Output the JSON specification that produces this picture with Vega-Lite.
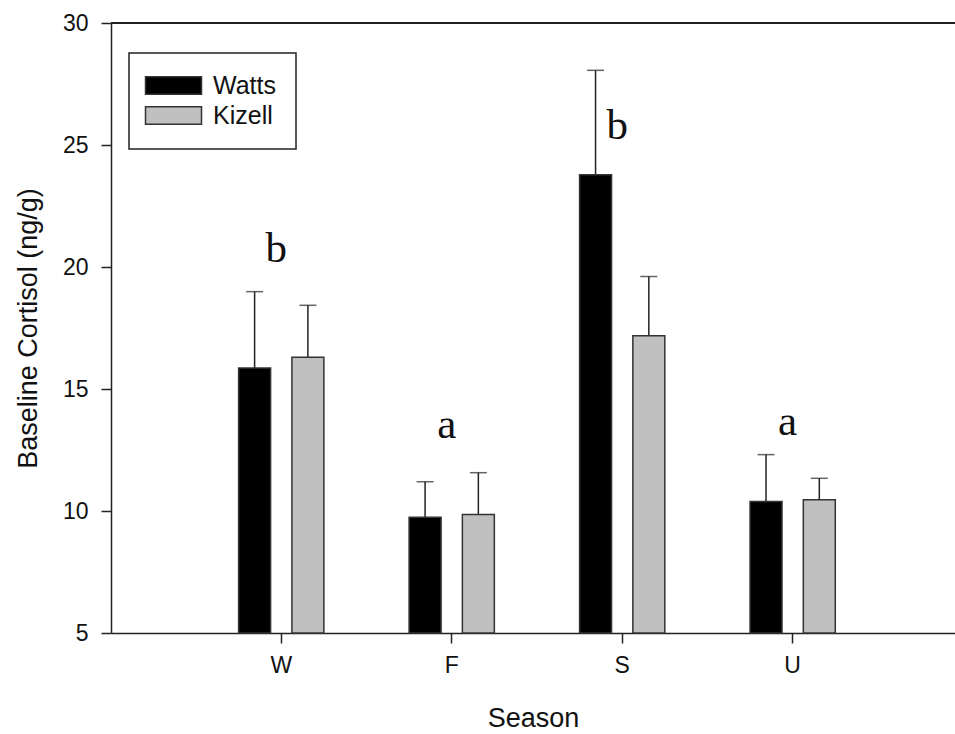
{
  "$schema": "https://vega.github.io/schema/vega-lite/v6.json",
  "width": 844,
  "height": 610,
  "autosize": {"type": "none"},
  "padding": {"left": 111, "top": 23, "right": 0, "bottom": 101},
  "background": "white",
  "config": {
    "view": {"stroke": null},
    "font": "Liberation Sans",
    "axis": {
      "grid": false,
      "domainColor": "#222",
      "domainWidth": 1.5,
      "tickColor": "#222",
      "tickWidth": 1.5,
      "tickSize": 10,
      "labelFont": "Liberation Sans",
      "labelFontSize": 23,
      "labelColor": "#111",
      "titleFont": "Liberation Sans",
      "titleFontSize": 27,
      "titleFontWeight": "normal",
      "titleColor": "#111"
    },
    "legend": {
      "strokeColor": "#222",
      "strokeWidth": 1.5,
      "fillColor": "white",
      "padding": 20,
      "symbolStrokeColor": "#333",
      "symbolStrokeWidth": 1.5
    }
  },
  "datasets": {
    "bars": [
      {"season": "W", "site": "Watts", "mean": 15.86, "upper": 18.99},
      {"season": "W", "site": "Kizell", "mean": 16.3, "upper": 18.43},
      {"season": "F", "site": "Watts", "mean": 9.74, "upper": 11.2},
      {"season": "F", "site": "Kizell", "mean": 9.86, "upper": 11.57},
      {"season": "S", "site": "Watts", "mean": 23.78, "upper": 28.06},
      {"season": "S", "site": "Kizell", "mean": 17.18, "upper": 19.61},
      {"season": "U", "site": "Watts", "mean": 10.39, "upper": 12.31},
      {"season": "U", "site": "Kizell", "mean": 10.46, "upper": 11.34}
    ],
    "letters": [
      {"season": "W", "letter": "b", "pos": 20.2},
      {"season": "F", "letter": "a", "pos": 13.0},
      {"season": "S", "letter": "b", "pos": 25.25},
      {"season": "U", "letter": "a", "pos": 13.1}
    ]
  },
  "layer": [
    {
      "data": {"name": "bars"},
      "mark": {"type": "rule", "color": "#222", "strokeWidth": 1.5},
      "encoding": {
        "x": {"field": "season", "type": "nominal", "title": "Season"},
        "xOffset": {"field": "site", "type": "nominal"},
        "y": {"field": "mean", "type": "quantitative", "title": "Baseline Cortisol (ng/g)"},
        "y2": {"field": "upper"}
      }
    },
    {
      "data": {"name": "bars"},
      "mark": {"type": "tick", "color": "#222", "size": 17, "thickness": 1.5},
      "encoding": {
        "x": {"field": "season", "type": "nominal", "title": "Season"},
        "xOffset": {"field": "site", "type": "nominal"},
        "y": {"field": "upper", "type": "quantitative", "title": "Baseline Cortisol (ng/g)"}
      }
    },
    {
      "data": {"name": "bars"},
      "mark": {"type": "bar", "stroke": "#333", "strokeWidth": 1.5},
      "encoding": {
        "x": {
          "field": "season",
          "type": "nominal",
          "title": "Season",
          "sort": ["W", "F", "S", "U"],
          "scale": {"domain": ["W", "F", "S", "U"], "paddingInner": 0.5, "paddingOuter": 0.7255, "align": 0.516, "round": false},
          "axis": {"labelAngle": 0, "labelAlign": "center", "labelPadding": 22, "titlePadding": 28}
        },
        "xOffset": {
          "field": "site",
          "type": "nominal",
          "sort": ["Watts", "Kizell"],
          "scale": {"domain": ["Watts", "Kizell"], "paddingInner": 0.4, "paddingOuter": 0}
        },
        "y": {
          "field": "mean",
          "type": "quantitative",
          "title": "Baseline Cortisol (ng/g)",
          "scale": {"domain": [5, 30], "nice": false, "zero": false},
          "axis": {"values": [5, 10, 15, 20, 25, 30], "labelPadding": 13, "titlePadding": 20}
        },
        "y2": {"datum": 5},
        "color": {
          "field": "site",
          "type": "nominal",
          "sort": ["Watts", "Kizell"],
          "scale": {"domain": ["Watts", "Kizell"], "range": ["#000000", "#c0c0c0"]},
          "legend": {
            "title": null,
            "orient": "none",
            "legendX": 18,
            "legendY": 30,
            "direction": "vertical",
            "symbolType": "M-7,-2.19H7V2.19H-7Z",
            "symbolSize": 64,
            "symbolOffset": 12,
            "labelOffset": 27,
            "labelFont": "Liberation Sans",
            "labelFontSize": 25,
            "labelColor": "#111",
            "rowPadding": 4
          }
        }
      }
    },
    {
      "data": {"name": "bars"},
      "mark": {"type": "rule", "color": "#222", "strokeWidth": 1.5},
      "encoding": {
        "y": {"datum": 30}
      }
    },
    {
      "data": {"name": "letters"},
      "mark": {"type": "text", "font": "Liberation Serif", "fontSize": 43, "align": "center", "baseline": "alphabetic", "dx": -5, "color": "#111"},
      "encoding": {
        "x": {"field": "season", "type": "nominal", "title": "Season"},
        "y": {"field": "pos", "type": "quantitative", "title": "Baseline Cortisol (ng/g)"},
        "text": {"field": "letter"}
      }
    }
  ]
}
